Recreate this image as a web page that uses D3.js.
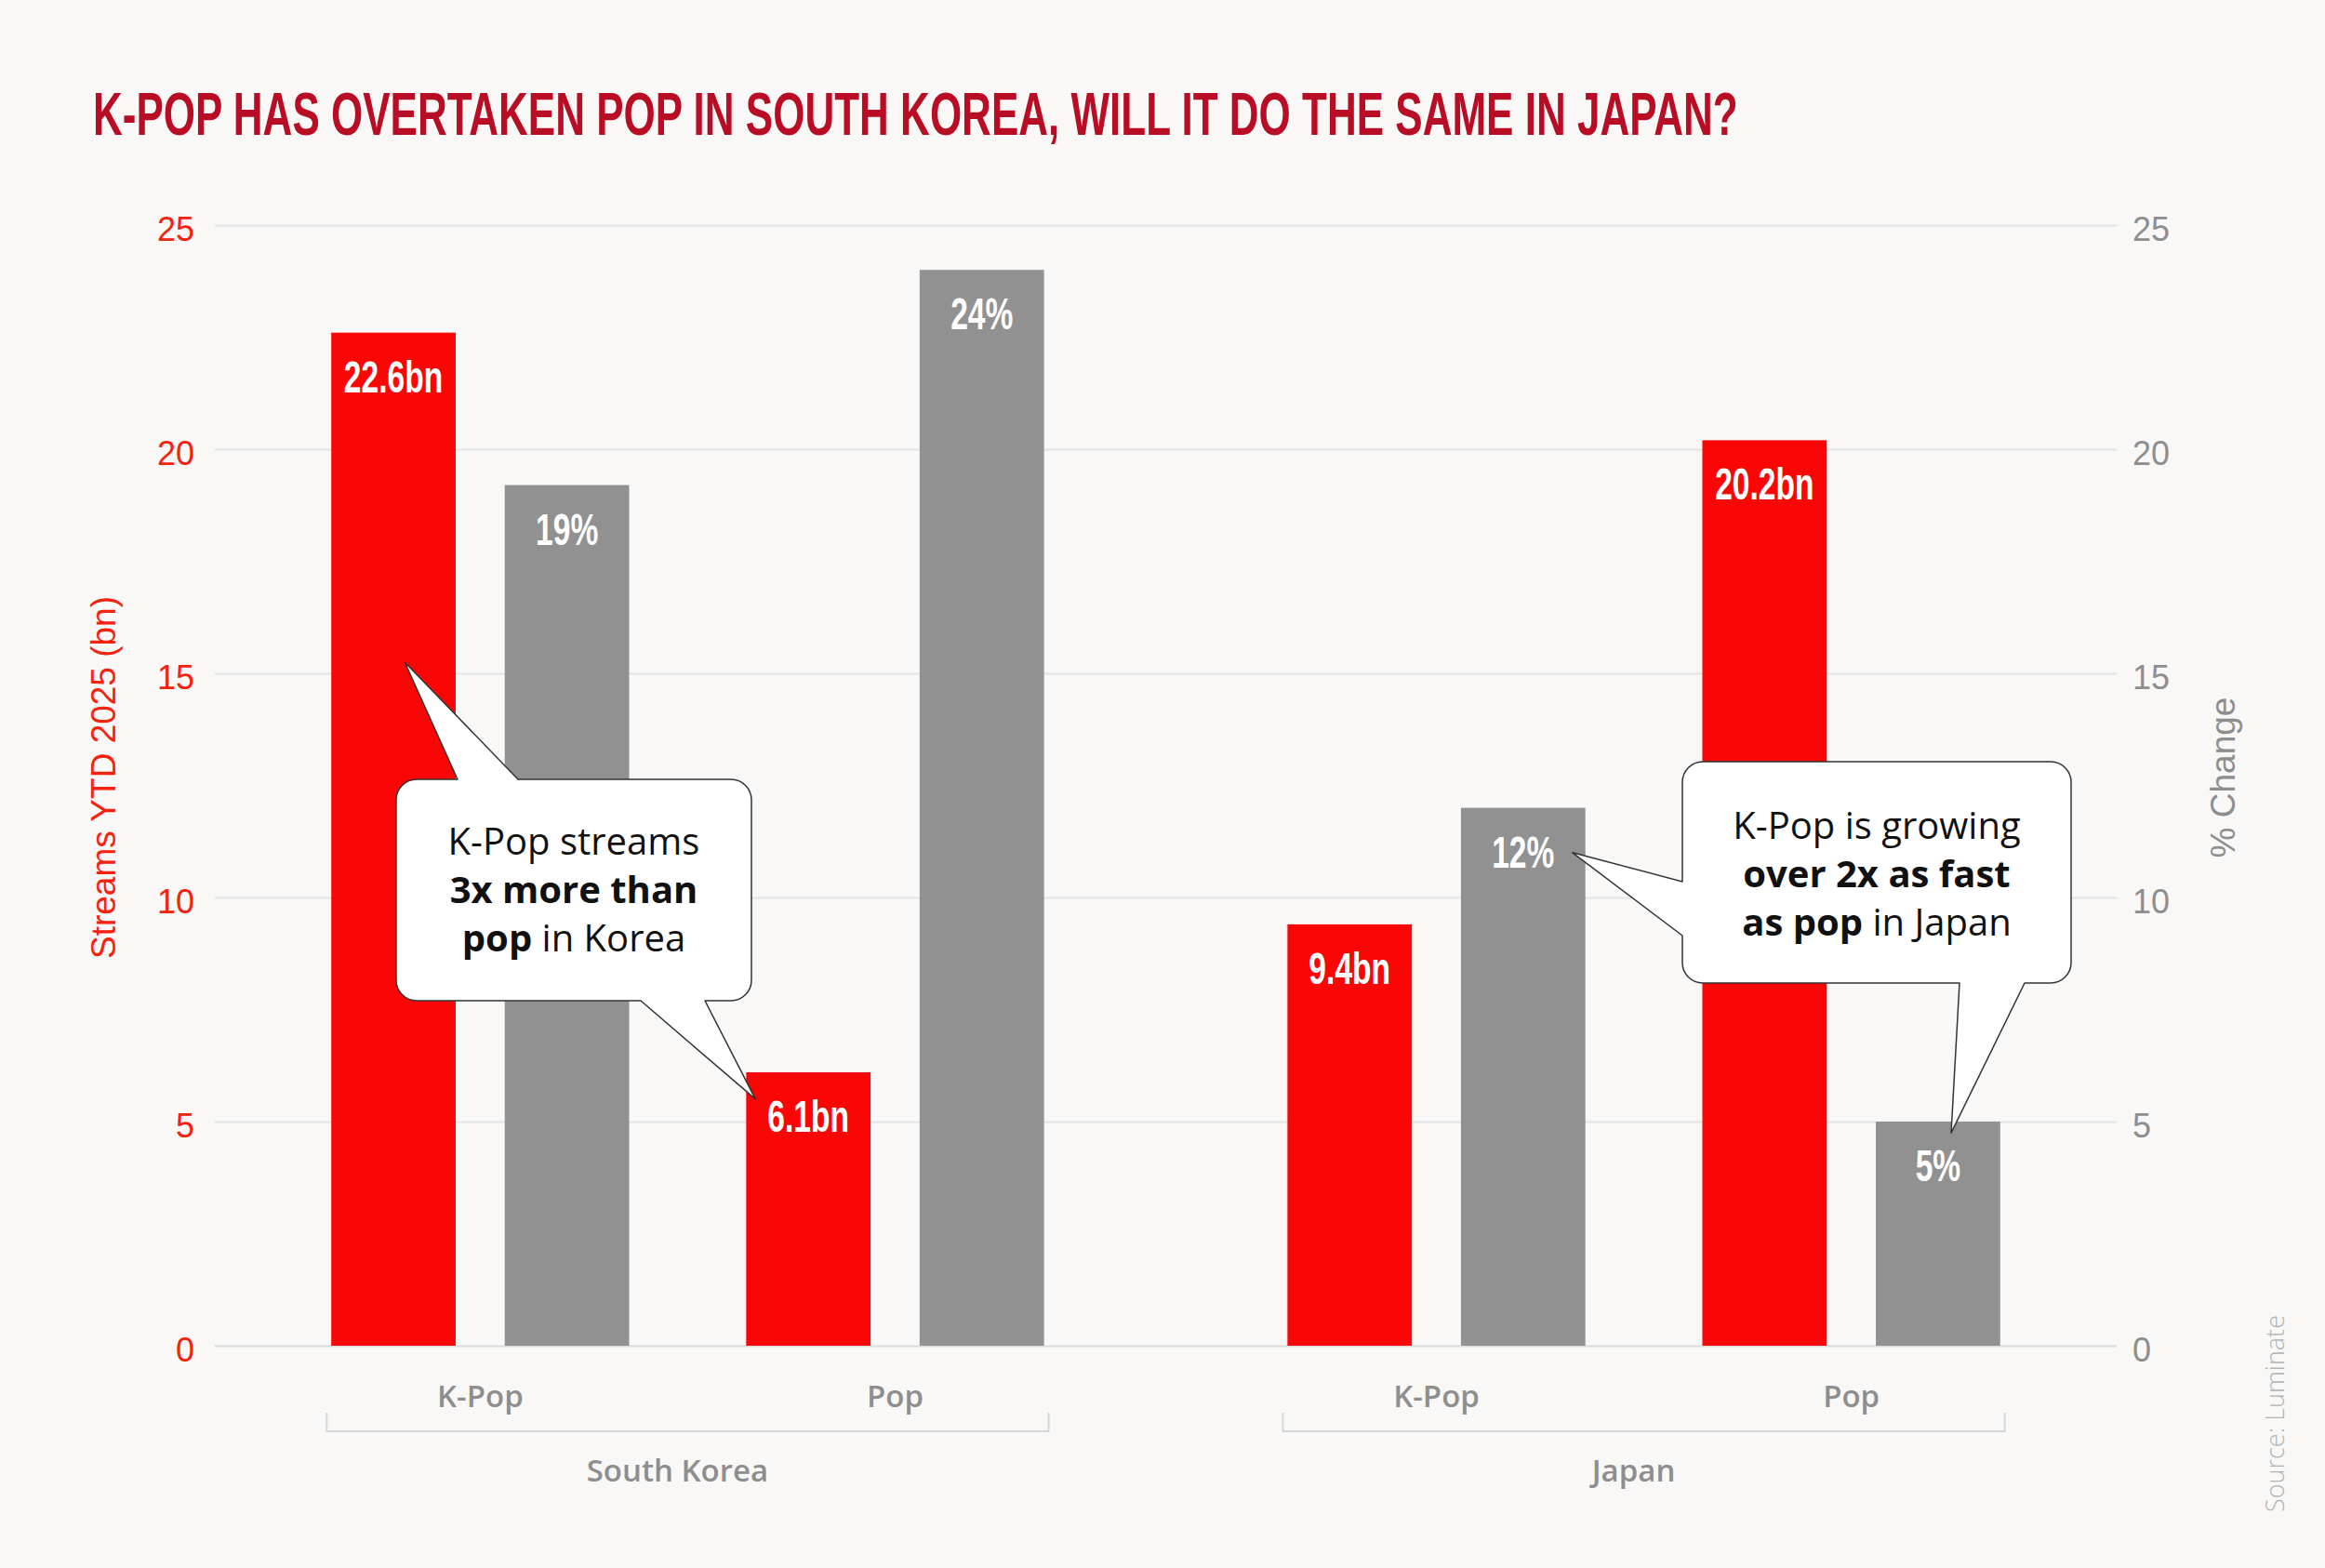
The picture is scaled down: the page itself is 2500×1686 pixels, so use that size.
<!DOCTYPE html>
<html>
<head>
<meta charset="utf-8">
<script src="https://cdn.jsdelivr.net/npm/d3@7"></script>
<style>
  body { margin: 0; background: #f9f8f6; }
  svg { display: block; }
</style>
</head>
<body>
<script>
// data
const countries = ["South Korea", "Japan"];
const genres = ["K-Pop", "Pop"];
const series = ["streams", "change"];
// streams YTD 2025, billions  [country][genre]
const streams = [[22.6, 6.1], [9.4, 20.2]];
// % change  [country][genre]
const change = [[19.2, 24], [12, 5]];
const ticks = [0, 5, 10, 15, 20, 25];

const W = 2500, H = 1686;
const plotL = 231, plotR = 2276, plotT = 242, plotB = 1447;

const svg = d3.select("body").append("svg")
    .attr("width", W)
    .attr("height", H);

svg.append("rect").attr("width", W).attr("height", H).attr("fill", "#f9f8f6");

// title - squeezed horizontally to look like a condensed face
let title = svg.append("text")
    .attr("text-anchor", "start")
    .style("font-family", "'Liberation Sans', Arial, sans-serif")
    .style("font-weight", "bold")
    .style("font-size", "65px")
    .attr("fill", "#b80d24")
    .text("K-POP HAS OVERTAKEN POP IN SOUTH KOREA, WILL IT DO THE SAME IN JAPAN?");
let tw = title.node().getComputedTextLength();
title.attr("transform", "translate(100,145) scale(" + (1769 / tw) + ",1)");

// scales
let y = d3.scaleLinear().domain([0, 25]).range([plotB, plotT]);
let yR = d3.scaleLinear().domain([0, 25]).range([plotB, plotT]);

let x0 = d3.scaleBand().domain(countries).range([plotL, plotR])
    .paddingInner(0.245).paddingOuter(0.117);
let x1 = d3.scaleBand().domain(genres).range([0, x0.bandwidth()])
    .paddingInner(0.282).paddingOuter(0.011);
let x2 = d3.scaleBand().domain(series).range([0, x1.bandwidth()])
    .paddingInner(0.283);

// gridlines
svg.append("g")
    .attr("transform", "translate(" + plotL + ",0)")
    .call(d3.axisLeft(y).tickValues(ticks).tickSize(-(plotR - plotL)).tickFormat(""))
    .call(g => g.select(".domain").remove())
    .call(g => g.selectAll("line")
        .attr("stroke", d => d === 0 ? "#dcdcdc" : "#e4e4e4")
        .attr("stroke-width", 2));

// left axis
svg.append("g")
    .attr("transform", "translate(" + plotL + ",0)")
    .call(d3.axisLeft(y).tickValues(ticks).tickSize(0).tickPadding(22))
    .call(g => g.select(".domain").remove())
    .call(g => g.selectAll("text")
        .attr("dy", "0.45em")
        .attr("fill", "#f5220f")
        .style("font-family", "'Liberation Sans', Arial, sans-serif")
        .style("font-size", "36px"));

// right axis
svg.append("g")
    .attr("transform", "translate(" + plotR + ",0)")
    .call(d3.axisRight(yR).tickValues(ticks).tickSize(0).tickPadding(17))
    .call(g => g.select(".domain").remove())
    .call(g => g.selectAll("text")
        .attr("dy", "0.45em")
        .attr("fill", "#8e8e8e")
        .style("font-family", "'Liberation Sans', Arial, sans-serif")
        .style("font-size", "36px"));

// axis titles
svg.append("text")
    .attr("transform", "translate(124,836) rotate(-90)")
    .attr("text-anchor", "middle")
    .attr("fill", "#f5220f")
    .style("font-family", "'Liberation Sans', Arial, sans-serif")
    .style("font-size", "37px")
    .text("Streams YTD 2025 (bn)");

svg.append("text")
    .attr("transform", "translate(2403,836) rotate(-90)")
    .attr("text-anchor", "middle")
    .attr("fill", "#8e8e8e")
    .style("font-family", "'Liberation Sans', Arial, sans-serif")
    .style("font-size", "37px")
    .text("% Change");

svg.append("text")
    .attr("transform", "translate(2456,1520) rotate(-90)")
    .attr("text-anchor", "middle")
    .attr("fill", "#b3b3b3")
    .style("font-family", "'Open Sans', sans-serif")
    .style("font-weight", 300)
    .style("font-size", "27px")
    .text("Source: Luminate");

// rows for bars
let rows = [];
countries.forEach((c, ci) => {
    genres.forEach((g, gi) => {
        rows.push({country: c, genre: g, series: "streams", value: streams[ci][gi]});
        rows.push({country: c, genre: g, series: "change", value: change[ci][gi]});
    });
});

function barX(d) { return x0(d.country) + x1(d.genre) + x2(d.series); }
function barY(d) { return d.series === "streams" ? y(d.value) : yR(d.value); }

svg.append("g").selectAll("rect")
    .data(rows)
    .enter()
    .append("rect")
    .attr("x", barX)
    .attr("y", barY)
    .attr("width", x2.bandwidth())
    .attr("height", d => plotB - barY(d))
    .attr("fill", d => d.series === "streams" ? "#fb0606" : "#919191");

// bar value labels (narrowed with scaleX, no condensed font available)
svg.append("g").selectAll("text")
    .data(rows)
    .enter()
    .append("text")
    .attr("transform", d => "translate(" + (barX(d) + x2.bandwidth() / 2) + "," + (barY(d) + 64) + ") scale(0.7,1)")
    .attr("text-anchor", "middle")
    .attr("fill", "#fff")
    .style("font-family", "'Liberation Sans', Arial, sans-serif")
    .style("font-weight", "bold")
    .style("font-size", "48px")
    .text(d => d.series === "streams" ? d.value.toFixed(1) + "bn" : Math.round(d.value) + "%");

// genre labels
let cats = [];
countries.forEach(c => genres.forEach(g => cats.push({country: c, genre: g})));
svg.append("g").selectAll("text")
    .data(cats)
    .enter()
    .append("text")
    .attr("x", d => x0(d.country) + x1(d.genre) + x1.bandwidth() / 2)
    .attr("y", 1513)
    .attr("text-anchor", "middle")
    .attr("fill", "#8e8e8e")
    .style("font-family", "'Open Sans', sans-serif")
    .style("font-weight", 600)
    .style("font-size", "33px")
    .text(d => d.genre);

// country brackets
svg.append("g").selectAll("path")
    .data(countries)
    .enter()
    .append("path")
    .attr("d", c => "M" + x0(c) + ",1519V1539H" + (x0(c) + x0.bandwidth()) + "V1519")
    .attr("fill", "none")
    .attr("stroke", "#d6d6d6")
    .attr("stroke-width", 2);

svg.append("g").selectAll("text")
    .data(countries)
    .enter()
    .append("text")
    .attr("x", c => x0(c) + x0.bandwidth() / 2 - 11)
    .attr("y", 1593)
    .attr("text-anchor", "middle")
    .attr("fill", "#8e8e8e")
    .style("font-family", "'Open Sans', sans-serif")
    .style("font-weight", 600)
    .style("font-size", "33px")
    .text(c => c);

// callouts - tips are anchored to bars through the scales
function tipPoint(t) {
    let sc = t.series === "streams" ? y : yR;
    return [x0(t.country) + x1(t.genre) + x2(t.series) + t.dx, sc(t.at)];
}

const callouts = [
    {
        box: [426, 838, 382, 238], r: 22,
        pointers: [
            {side: "top", a: 492, b: 557, tip: {country: "South Korea", genre: "K-Pop", series: "streams", dx: 79, at: 15.25}},
            {side: "bottom", a: 689, b: 758, tip: {country: "South Korea", genre: "Pop", series: "streams", dx: 10, at: 5.5}}
        ],
        cx: 617, lines: [
            [["K-Pop streams", 400]],
            [["3x more than", 700]],
            [["pop", 700], [" in Korea", 400]]
        ], y0: 919
    },
    {
        box: [1809, 819, 418, 238], r: 22,
        pointers: [
            {side: "left", a: 948, b: 1006, tip: {country: "Japan", genre: "K-Pop", series: "change", dx: 120, at: 11}},
            {side: "bottom", a: 2107, b: 2177, tip: {country: "Japan", genre: "Pop", series: "change", dx: 81, at: 4.75}}
        ],
        cx: 2018, lines: [
            [["K-Pop is growing", 400]],
            [["over 2x as fast", 700]],
            [["as pop", 700], [" in Japan", 400]]
        ], y0: 902
    }
];

function calloutPath(c) {
    let [x, yy, w, h] = c.box, r = c.r;
    let p = d3.path();
    let ptr = s => c.pointers.find(q => q.side === s);
    p.moveTo(x + r, yy);
    let t = ptr("top");
    if (t) { let tp = tipPoint(t.tip); p.lineTo(t.a, yy); p.lineTo(tp[0], tp[1]); p.lineTo(t.b, yy); }
    p.lineTo(x + w - r, yy);
    p.arcTo(x + w, yy, x + w, yy + r, r);
    p.lineTo(x + w, yy + h - r);
    p.arcTo(x + w, yy + h, x + w - r, yy + h, r);
    let b = ptr("bottom");
    if (b) { let tp = tipPoint(b.tip); p.lineTo(b.b, yy + h); p.lineTo(tp[0], tp[1]); p.lineTo(b.a, yy + h); }
    p.lineTo(x + r, yy + h);
    p.arcTo(x, yy + h, x, yy + h - r, r);
    let l = ptr("left");
    if (l) { let tp = tipPoint(l.tip); p.lineTo(x, l.b); p.lineTo(tp[0], tp[1]); p.lineTo(x, l.a); }
    p.lineTo(x, yy + r);
    p.arcTo(x, yy, x + r, yy, r);
    p.closePath();
    return p.toString();
}

let co = svg.append("g").selectAll("g")
    .data(callouts)
    .enter()
    .append("g");

co.append("path")
    .attr("d", calloutPath)
    .attr("fill", "#fff")
    .attr("stroke", "#333")
    .attr("stroke-width", 1.5)
    .attr("stroke-linejoin", "round");

co.each(function(c) {
    let g = d3.select(this);
    c.lines.forEach((ln, i) => {
        let t = g.append("text")
            .attr("x", c.cx)
            .attr("y", c.y0 + i * 52)
            .attr("text-anchor", "middle")
            .attr("fill", "#111")
            .style("font-family", "'Open Sans', sans-serif")
            .style("font-size", "40px");
        ln.forEach(part => {
            t.append("tspan").style("font-weight", part[1]).text(part[0]);
        });
    });
});
</script>
</body>
</html>
